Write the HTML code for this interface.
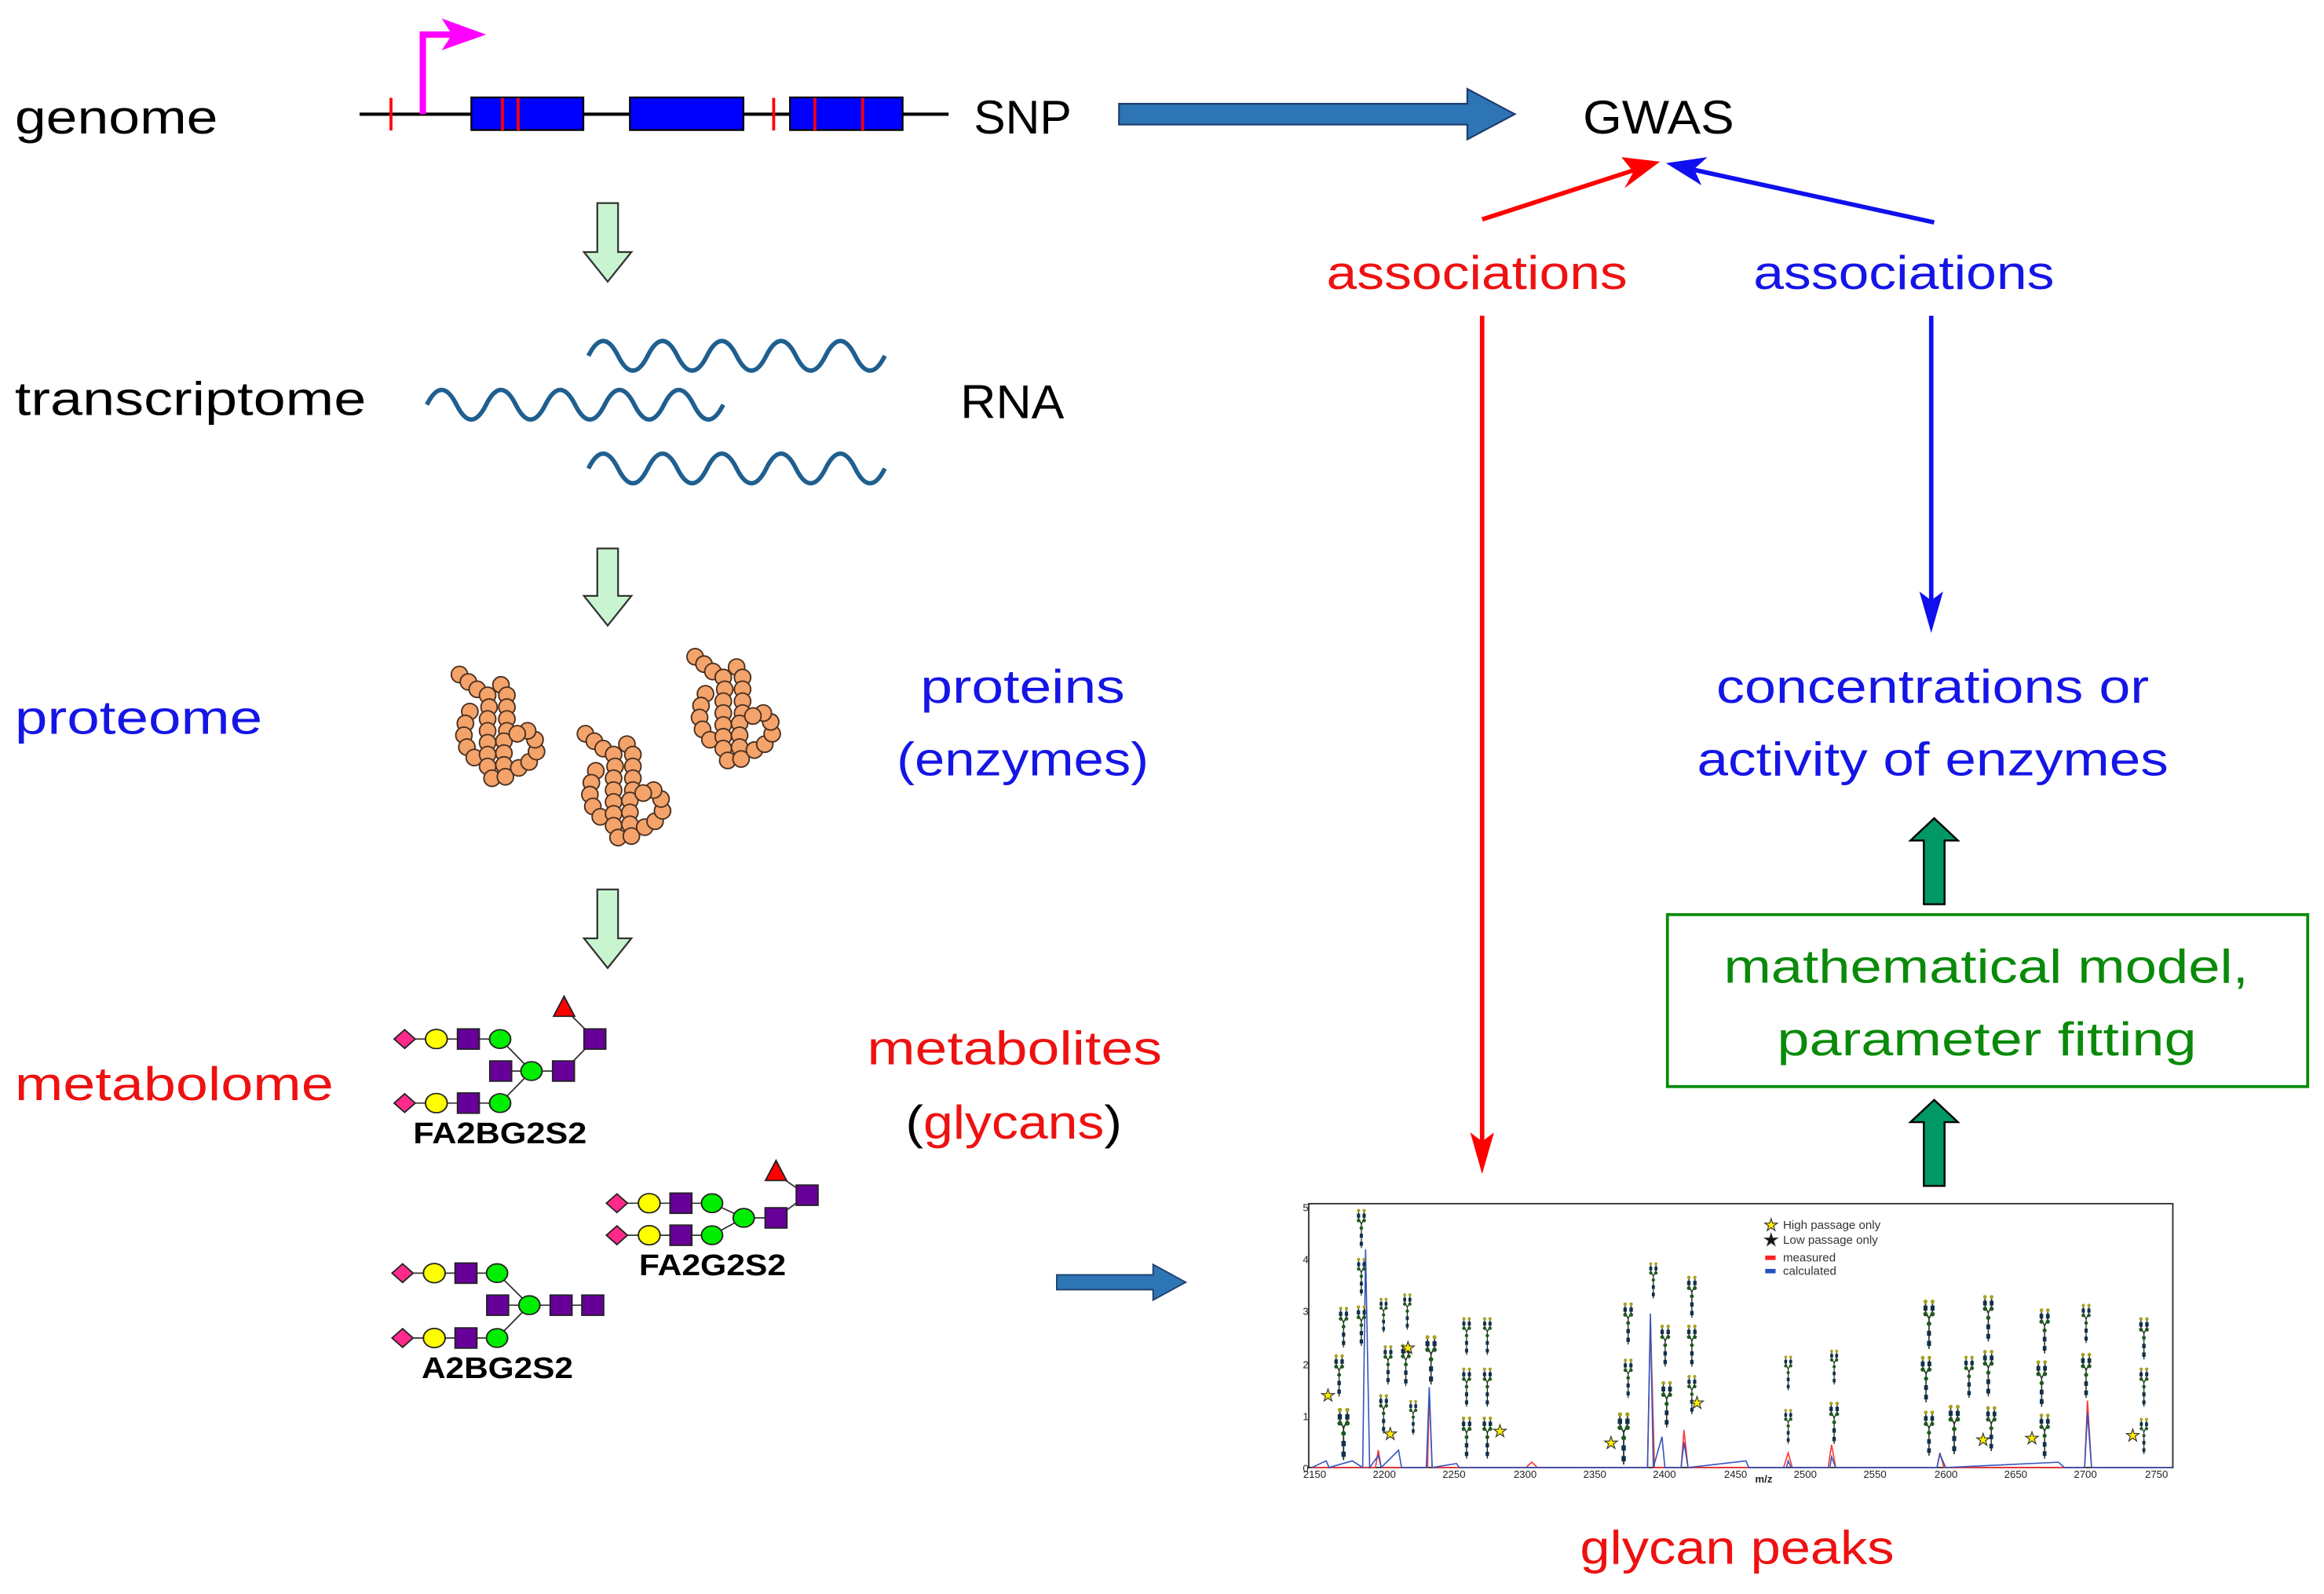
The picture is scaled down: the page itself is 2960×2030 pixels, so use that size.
<!DOCTYPE html>
<html><head><meta charset="utf-8"><style>html,body{margin:0;padding:0;background:#fff}svg{display:block}</style></head>
<body>
<svg width="2960" height="2030" viewBox="0 0 1568 1075.3" xmlns="http://www.w3.org/2000/svg" font-family="Liberation Sans, sans-serif">
<defs>
<symbol id="prot" viewBox="0 0 70 85" overflow="visible">
<g fill="#f4a36a" stroke="#4a3020" stroke-width="1">
<circle cx="5" cy="5" r="5.5"/><circle cx="11" cy="10" r="5.5"/><circle cx="17" cy="15" r="5.5"/><circle cx="24" cy="19" r="5.5"/>
<circle cx="33" cy="12" r="5.5"/><circle cx="37" cy="19" r="5.5"/><circle cx="37" cy="27" r="5.5"/><circle cx="37" cy="35" r="5.5"/><circle cx="37" cy="43" r="5.5"/>
<circle cx="12" cy="30" r="5.5"/><circle cx="9" cy="38" r="5.5"/><circle cx="8" cy="46" r="5.5"/><circle cx="10" cy="54" r="5.5"/><circle cx="15" cy="61" r="5.5"/>
<circle cx="25" cy="27" r="5.5"/><circle cx="24" cy="35" r="5.5"/><circle cx="24" cy="43" r="5.5"/><circle cx="24" cy="51" r="5.5"/><circle cx="24" cy="59" r="5.5"/><circle cx="24" cy="67" r="5.5"/><circle cx="27" cy="75" r="5.5"/>
<circle cx="35" cy="50" r="5.5"/><circle cx="35" cy="58" r="5.5"/><circle cx="35" cy="66" r="5.5"/><circle cx="36" cy="74" r="5.5"/>
<circle cx="45" cy="68" r="5.5"/><circle cx="52" cy="64" r="5.5"/><circle cx="57" cy="57" r="5.5"/><circle cx="56" cy="49" r="5.5"/><circle cx="51" cy="43" r="5.5"/><circle cx="44" cy="45" r="5.5"/>
</g></symbol>
<symbol id="tree" viewBox="0 0 20 100" overflow="visible">
<g stroke="#1a2a1a" stroke-width="2.5" fill="none"><path d="M10 100V40M10 40L3 25V5M10 40L17 25V5"/></g>
<g fill="#12304a"><rect x="6" y="84" width="8" height="10"/><rect x="6" y="64" width="8" height="10"/><rect x="-1" y="14" width="8" height="10"/><rect x="13" y="14" width="8" height="10"/></g>
<g fill="#1f5a1f"><circle cx="10" cy="50" r="4.5"/><circle cx="3" cy="31" r="4.5"/><circle cx="17" cy="31" r="4.5"/></g>
<g fill="#a8a020"><circle cx="3" cy="6" r="4"/><circle cx="17" cy="6" r="4"/></g>
</symbol>
</defs>

<g font-size="32">
<text x="10" y="90" textLength="137" lengthAdjust="spacingAndGlyphs">genome</text>
<text x="10" y="280" textLength="237" lengthAdjust="spacingAndGlyphs">transcriptome</text>
<text x="10" y="495" fill="#1515e6" textLength="167" lengthAdjust="spacingAndGlyphs">proteome</text>
<text x="10" y="742" fill="#ee1111" textLength="215" lengthAdjust="spacingAndGlyphs">metabolome</text>
<text x="657" y="90" textLength="66" lengthAdjust="spacingAndGlyphs">SNP</text>
<text x="1068" y="90" textLength="102" lengthAdjust="spacingAndGlyphs">GWAS</text>
<text x="648" y="282" textLength="70" lengthAdjust="spacingAndGlyphs">RNA</text>
<text x="895" y="195" fill="#ee1111" textLength="203" lengthAdjust="spacingAndGlyphs">associations</text>
<text x="1183" y="195" fill="#1515e6" textLength="203" lengthAdjust="spacingAndGlyphs">associations</text>
<text x="621" y="474" fill="#1515e6" textLength="138" lengthAdjust="spacingAndGlyphs">proteins</text>
<text x="605" y="523" fill="#1515e6" textLength="170" lengthAdjust="spacingAndGlyphs">(enzymes)</text>
<text x="1158" y="474" fill="#1515e6" textLength="292" lengthAdjust="spacingAndGlyphs">concentrations or</text>
<text x="1145" y="523" fill="#1515e6" textLength="318" lengthAdjust="spacingAndGlyphs">activity of enzymes</text>
<text x="1163" y="663" fill="#0a8a0a" textLength="354" lengthAdjust="spacingAndGlyphs">mathematical model,</text>
<text x="1199" y="712" fill="#0a8a0a" textLength="283" lengthAdjust="spacingAndGlyphs">parameter fitting</text>
<text x="585" y="718" fill="#ee1111" textLength="199" lengthAdjust="spacingAndGlyphs">metabolites</text>
<text x="611" y="768" textLength="146" lengthAdjust="spacingAndGlyphs">(<tspan fill="#ee1111">glycans</tspan>)</text>
<text x="1066" y="1055" fill="#ee1111" textLength="212" lengthAdjust="spacingAndGlyphs">glycan peaks</text>
</g>

<line x1="242.6" y1="77" x2="640" y2="77" stroke="#000" stroke-width="2.2"/>
<g fill="#0000ff" stroke="#000" stroke-width="1.2">
<rect x="318" y="65.7" width="75.6" height="22"/><rect x="425" y="65.7" width="76.6" height="22"/><rect x="533" y="65.7" width="76" height="22"/>
</g>
<g stroke="#ff0000" stroke-width="2">
<line x1="263.8" y1="66" x2="263.8" y2="88"/><line x1="339" y1="66" x2="339" y2="88"/><line x1="349.6" y1="66" x2="349.6" y2="88"/>
<line x1="522" y1="66" x2="522" y2="88"/><line x1="549.8" y1="66" x2="549.8" y2="88"/><line x1="582" y1="66" x2="582" y2="88"/>
</g>
<path d="M285.3 77V23.3H305" stroke="#ff00ff" stroke-width="4.3" fill="none"/>
<path d="M298 12.4L328 23.3L298 33.9L305 23.3z" fill="#ff00ff"/>

<path d="M755 70H990V60L1022 77L990 94V84H755z" fill="#2e75b6" stroke="#1f3f6f" stroke-width="1.2"/>

<g stroke="#ff0000" stroke-width="3" fill="none"><line x1="1000" y1="148" x2="1108" y2="113"/><line x1="1000" y1="213" x2="1000" y2="778"/></g>
<path d="M1120 109L1096 127L1102 116L1094 106z" fill="#f00"/>
<path d="M1000 792L992 764L1000 770L1008 764z" fill="#f00"/>
<g stroke="#1010ee" stroke-width="3" fill="none"><line x1="1305" y1="150" x2="1136" y2="113"/><line x1="1303" y1="213" x2="1303" y2="412"/></g>
<path d="M1124 110L1152 106L1143 114L1148 125z" fill="#1010ee"/>
<path d="M1303 427L1295 399L1303 405L1311 399z" fill="#1010ee"/>

<g fill="#009966" stroke="#000" stroke-width="1.3">
<path d="M1298 610V567H1289L1305 552L1321 567H1312V610z"/>
<path d="M1298 800V757H1289L1305 742L1321 757H1312V800z"/>
</g>
<rect x="1125" y="617" width="432" height="116" fill="none" stroke="#0a8a0a" stroke-width="2"/>

<g fill="#c8f5d0" stroke="#333" stroke-width="1.2">
<path d="M403 137V170H394L410 190L426 170H417V137z"/>
<path d="M403 370V402H394L410 422L426 402H417V370z"/>
<path d="M403 600V633H394L410 653L426 633H417V600z"/>
</g>

<g stroke="#1f5f8f" stroke-width="3" fill="none">
<path d="M397 240 q10 -20 20 0 t20 0 t20 0 t20 0 t20 0 t20 0 t20 0 t20 0 t20 0 t20 0"/>
<path d="M288 273 q10 -20 20 0 t20 0 t20 0 t20 0 t20 0 t20 0 t20 0 t20 0 t20 0 t20 0"/>
<path d="M397 316 q10 -20 20 0 t20 0 t20 0 t20 0 t20 0 t20 0 t20 0 t20 0 t20 0 t20 0"/>
</g>

<use href="#prot" x="305" y="450" width="70" height="85"/>
<use href="#prot" x="390" y="490" width="70" height="85"/>
<use href="#prot" x="464" y="438" width="70" height="85"/>

<g transform="translate(254.3,662.2) scale(0.2037,0.1801)">
<g stroke="#333" stroke-width="5">
<line x1="92" y1="215" x2="408" y2="215"/><line x1="92" y1="455" x2="408" y2="455"/><line x1="408" y1="215" x2="512" y2="335"/><line x1="408" y1="455" x2="512" y2="335"/><line x1="410" y1="335" x2="618" y2="335"/><line x1="618" y1="335" x2="722" y2="215"/><line x1="620" y1="100" x2="722" y2="215"/>
<line x1="795" y1="830" x2="1110" y2="830"/><line x1="795" y1="950" x2="1110" y2="950"/><line x1="1110" y1="830" x2="1215" y2="885"/><line x1="1110" y1="950" x2="1215" y2="885"/><line x1="1215" y1="885" x2="1322" y2="885"/><line x1="1322" y1="885" x2="1425" y2="800"/><line x1="1322" y1="720" x2="1425" y2="800"/>
<line x1="85" y1="1092" x2="398" y2="1092"/><line x1="85" y1="1335" x2="398" y2="1335"/><line x1="398" y1="1092" x2="505" y2="1212"/><line x1="398" y1="1335" x2="505" y2="1212"/><line x1="400" y1="1212" x2="715" y2="1212"/>
</g>
<g stroke="#222" stroke-width="5">
<g fill="#ff2a8a"><path d="M57 215L92 180L127 215L92 250z"/><path d="M57 455L92 420L127 455L92 490z"/><path d="M760 830L795 795L830 830L795 865z"/><path d="M760 950L795 915L830 950L795 985z"/><path d="M50 1092L85 1057L120 1092L85 1127z"/><path d="M50 1335L85 1300L120 1335L85 1370z"/></g>
<g fill="#ffff00"><circle cx="197" cy="215" r="36"/><circle cx="197" cy="455" r="36"/><circle cx="902" cy="830" r="36"/><circle cx="902" cy="950" r="36"/><circle cx="190" cy="1092" r="36"/><circle cx="190" cy="1335" r="36"/></g>
<g fill="#660099"><rect x="267" y="177" width="72" height="76"/><rect x="267" y="417" width="72" height="76"/><rect x="374" y="297" width="72" height="76"/><rect x="582" y="297" width="72" height="76"/><rect x="686" y="177" width="72" height="76"/>
<rect x="971" y="792" width="72" height="76"/><rect x="971" y="912" width="72" height="76"/><rect x="1286" y="847" width="72" height="76"/><rect x="1389" y="762" width="72" height="76"/>
<rect x="259" y="1054" width="72" height="76"/><rect x="259" y="1297" width="72" height="76"/><rect x="364" y="1174" width="72" height="76"/><rect x="574" y="1174" width="72" height="76"/><rect x="679" y="1174" width="72" height="76"/></g>
<g fill="#00ee00"><circle cx="408" cy="215" r="35"/><circle cx="408" cy="455" r="35"/><circle cx="512" cy="335" r="35"/><circle cx="1110" cy="830" r="35"/><circle cx="1110" cy="950" r="35"/><circle cx="1215" cy="885" r="35"/><circle cx="398" cy="1092" r="35"/><circle cx="398" cy="1335" r="35"/><circle cx="505" cy="1212" r="35"/></g>
<g fill="#ff0000"><path d="M585 130L620 55L655 130z"/><path d="M1287 745L1322 670L1357 745z"/></g>
</g>
<g font-weight="bold" font-size="112">
<text x="120" y="605" textLength="575" lengthAdjust="spacingAndGlyphs">FA2BG2S2</text>
<text x="868" y="1100" textLength="487" lengthAdjust="spacingAndGlyphs">FA2G2S2</text>
<text x="148" y="1485" textLength="502" lengthAdjust="spacingAndGlyphs">A2BG2S2</text>
</g>
</g>

<path d="M713 860H778V853L800 865L778 877V870H713z" fill="#2e75b6" stroke="#1f3f6f" stroke-width="1"/>

<rect x="883" y="812" width="583" height="178" fill="#fff" stroke="#333" stroke-width="1"/>
<g font-size="7" fill="#222">
<text x="879" y="993">0</text><text x="879" y="958">1</text><text x="879" y="923">2</text><text x="879" y="887">3</text><text x="879" y="852">4</text><text x="879" y="817">5</text>
</g>
<g font-size="7" fill="#222" text-anchor="middle">
<text x="887" y="997">2150</text><text x="934" y="997">2200</text><text x="981" y="997">2250</text><text x="1029" y="997">2300</text><text x="1076" y="997">2350</text><text x="1123" y="997">2400</text><text x="1171" y="997">2450</text><text x="1218" y="997">2500</text><text x="1265" y="997">2550</text><text x="1313" y="997">2600</text><text x="1360" y="997">2650</text><text x="1407" y="997">2700</text><text x="1455" y="997">2750</text>
<text x="1190" y="1000" font-weight="bold">m/z</text>
</g>
<g transform="translate(865.5,804.9) scale(0.3906,0.1806)">
<g fill="none" stroke-width="1.6" vector-effect="non-scaling-stroke">
<path vector-effect="non-scaling-stroke" stroke="#ff3333" d="M50 1025 L160 1025 165 960 170 1025 250 1025 253 745 258 1025 420 1025 430 1005 440 1025 630 1025 635 470 642 1025 688 1025 693 885 700 1025 865 1025 873 970 880 1025 942 1025 948 940 955 1025 1130 1025 1135 970 1142 1025 1385 1025 1390 775 1397 1025 1535 1025"/>
<path vector-effect="non-scaling-stroke" stroke="#3355bb" d="M50 1025 L75 1000 80 1025 120 1000 138 1025 143 210 150 1025 165 980 170 1025 200 960 205 1025 248 1025 253 725 258 1025 300 1010 305 1025 630 1025 635 450 640 1025 655 910 660 1025 688 1025 693 930 700 1025 800 1000 805 1025 870 1025 873 1000 878 1025 945 1025 948 985 955 1025 1130 1025 1135 975 1145 1025 1340 1005 1350 1025 1385 1025 1390 820 1397 1025 1535 1025"/>
</g>
</g>
<g>
<use href="#tree" x="902" y="881" width="9" height="28"/><use href="#tree" x="914" y="815" width="9" height="27"/><use href="#tree" x="914" y="848" width="9" height="26"/><use href="#tree" x="914" y="880" width="9" height="28"/>
<use href="#tree" x="899" y="913" width="9" height="29"/><use href="#tree" x="902" y="949" width="9" height="36"/><use href="#tree" x="929" y="875" width="9" height="24"/><use href="#tree" x="932" y="907" width="9" height="27"/>
<use href="#tree" x="929" y="940" width="9" height="27"/><use href="#tree" x="945" y="872" width="9" height="25"/><use href="#tree" x="944" y="906" width="9" height="29"/><use href="#tree" x="949" y="944" width="9" height="24"/>
<use href="#tree" x="961" y="900" width="9" height="34"/><use href="#tree" x="985" y="888" width="9" height="26"/><use href="#tree" x="999" y="888" width="9" height="26"/><use href="#tree" x="985" y="922" width="9" height="27"/>
<use href="#tree" x="999" y="922" width="9" height="27"/><use href="#tree" x="985" y="955" width="9" height="29"/><use href="#tree" x="999" y="955" width="9" height="29"/>
<use href="#tree" x="1094" y="878" width="9" height="29"/><use href="#tree" x="1094" y="916" width="9" height="27"/><use href="#tree" x="1091" y="952" width="9" height="36"/>
<use href="#tree" x="1111" y="851" width="9" height="25"/><use href="#tree" x="1119" y="893" width="9" height="29"/><use href="#tree" x="1120" y="931" width="9" height="32"/>
<use href="#tree" x="1137" y="860" width="9" height="29"/><use href="#tree" x="1137" y="893" width="9" height="29"/><use href="#tree" x="1137" y="927" width="9" height="27"/>
<use href="#tree" x="1202" y="914" width="9" height="24"/><use href="#tree" x="1202" y="950" width="9" height="24"/><use href="#tree" x="1233" y="910" width="9" height="24"/><use href="#tree" x="1233" y="945" width="9" height="29"/>
<use href="#tree" x="1297" y="876" width="9" height="34"/><use href="#tree" x="1295" y="914" width="9" height="32"/><use href="#tree" x="1297" y="951" width="9" height="31"/><use href="#tree" x="1314" y="947" width="9" height="34"/>
<use href="#tree" x="1324" y="914" width="9" height="29"/><use href="#tree" x="1337" y="873" width="9" height="32"/><use href="#tree" x="1337" y="910" width="9" height="32"/><use href="#tree" x="1339" y="948" width="9" height="31"/>
<use href="#tree" x="1375" y="882" width="9" height="31"/><use href="#tree" x="1373" y="917" width="9" height="32"/><use href="#tree" x="1375" y="953" width="9" height="31"/>
<use href="#tree" x="1403" y="879" width="9" height="27"/><use href="#tree" x="1403" y="912" width="9" height="31"/><use href="#tree" x="1442" y="888" width="9" height="29"/><use href="#tree" x="1442" y="922" width="9" height="27"/><use href="#tree" x="1442" y="956" width="9" height="25"/>
</g>
<g fill="#ffee00" stroke="#333" stroke-width="0.6" font-size="11">
<text x="891" y="945">★</text><text x="933" y="971">★</text><text x="945" y="913">★</text><text x="1007" y="969">★</text><text x="1082" y="977">★</text>
<text x="1140" y="950">★</text><text x="1333" y="975">★</text><text x="1366" y="974">★</text><text x="1434" y="972">★</text>
<text x="1190" y="830">★</text><text x="1190" y="840" fill="#111">★</text>
</g>
<rect x="1191" y="847" width="7" height="3" fill="#ff2222"/><rect x="1191" y="856" width="7" height="3" fill="#2255bb"/>
<g font-size="8" fill="#333">
<text x="1203" y="829">High passage only</text><text x="1203" y="839">Low passage only</text><text x="1203" y="851">measured</text><text x="1203" y="860">calculated</text>
</g>
</svg>
</body></html>
